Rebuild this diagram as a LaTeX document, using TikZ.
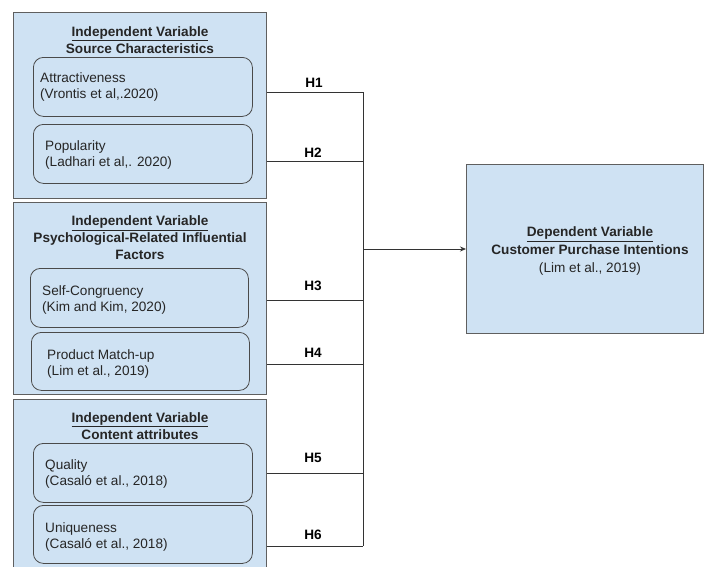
\documentclass[tikz,border=0pt]{standalone}
\usepackage{fontspec}
\setmainfont{Liberation Sans}
\usetikzlibrary{arrows.meta}
\definecolor{boxfill}{HTML}{CFE2F3}
\definecolor{boxline}{HTML}{5F5F5F}
\definecolor{itemline}{HTML}{4A4A4A}
\definecolor{connc}{HTML}{333333}
\begin{document}
\begin{tikzpicture}[x=1pt,y=-1pt,
  panel/.style={draw=boxline, fill=boxfill, line width=0.8pt, anchor=north west, inner sep=0pt},
  itembox/.style={draw=itemline, fill=boxfill, rounded corners=10pt, line width=0.8pt, anchor=north west, inner sep=0pt},
  ttl/.style={align=center, font=\bfseries\fontsize{13.6}{16.8}\selectfont, inner sep=0pt, text=black!85},
  itm/.style={align=left, anchor=west, font=\fontsize{13.6}{16.5}\selectfont, inner sep=0pt, text=black!85},
  hl/.style={font=\bfseries\fontsize{13.6}{16}\selectfont, anchor=south, inner sep=0pt},
  conn/.style={draw=connc, line width=0.8pt}]
\useasboundingbox (0,0) rectangle (704,566);
\clip (0,0) rectangle (704,566);

% panels
\node[panel, minimum width=253pt, minimum height=186pt] (p1) at (13,12) {};
\node[panel, minimum width=253pt, minimum height=192pt] (p2) at (13,202) {};
\node[panel, minimum width=253pt, minimum height=180pt] (p3) at (13,399) {};

% panel titles
\node[ttl] (t1) at (140,40) {\underline{Independent Variable}\\Source Characteristics};
\node[ttl] (t2) at (140,237.5) {\underline{Independent Variable}\\Psychological-Related Influential\\Factors};
\node[ttl] (t3) at (140,426) {\underline{Independent Variable}\\Content attributes};

% item boxes
\node[itembox, minimum width=219pt, minimum height=59pt] (a1) at (33,57) {};
\node[itembox, minimum width=219pt, minimum height=59pt] (a2) at (33,124) {};
\node[itembox, minimum width=218pt, minimum height=59pt] (a3) at (30,268) {};
\node[itembox, minimum width=218pt, minimum height=58pt] (a4) at (31,332) {};
\node[itembox, minimum width=219pt, minimum height=59pt] (a5) at (33,443) {};
\node[itembox, minimum width=219pt, minimum height=58pt] (a6) at (33,505) {};

\node[itm] (x1) at (40,87) {Attractiveness\\(Vrontis et al,.2020)};
\node[itm] (x2) at (45,155) {Popularity\\(Ladhari et al,. 2020)};
\node[itm] (x3) at (42,300) {Self-Congruency\\(Kim and Kim, 2020)};
\node[itm] (x4) at (47,364) {Product Match-up\\(Lim et al., 2019)};
\node[itm] (x5) at (45,474) {Quality\\(Casaló et al., 2018)};
\node[itm] (x6) at (45,537) {Uniqueness\\(Casaló et al., 2018)};

% dependent variable
\node[panel, minimum width=237pt, minimum height=169pt] (dv) at (466,164) {};
\node[ttl, font=\bfseries\fontsize{13.6}{18}\selectfont] (dvt) at (590,251)
  {\underline{Dependent Variable}\\Customer Purchase Intentions\\\mdseries (Lim et al., 2019)};

% bus coordinates
\coordinate (h1) at (363,92);
\coordinate (h2) at (363,161);
\coordinate (h3) at (363,300);
\coordinate (h4) at (363,364);
\coordinate (h5) at (363,473);
\coordinate (h6) at (363,546);
\coordinate (hm) at (363,249);

% connectors
\draw[conn] (p1.east |- h1) -- (h1);
\draw[conn] (p1.east |- h2) -- (h2);
\draw[conn] (p2.east |- h3) -- (h3);
\draw[conn] (p2.east |- h4) -- (h4);
\draw[conn] (p3.east |- h5) -- (h5);
\draw[conn] (p3.east |- h6) -- (h6);
\draw[conn] (h1) -- (h6);
\draw[conn, -{Stealth[length=6pt,width=5pt]}] (hm) -- (dv.west |- hm);

% hypothesis labels
\node[hl] (l1) at (314,88) {H1};
\node[hl] (l2) at (313,158) {H2};
\node[hl] (l3) at (313,291) {H3};
\node[hl] (l4) at (313,358) {H4};
\node[hl] (l5) at (313,463) {H5};
\node[hl] (l6) at (313,540) {H6};
\end{tikzpicture}
\end{document}
